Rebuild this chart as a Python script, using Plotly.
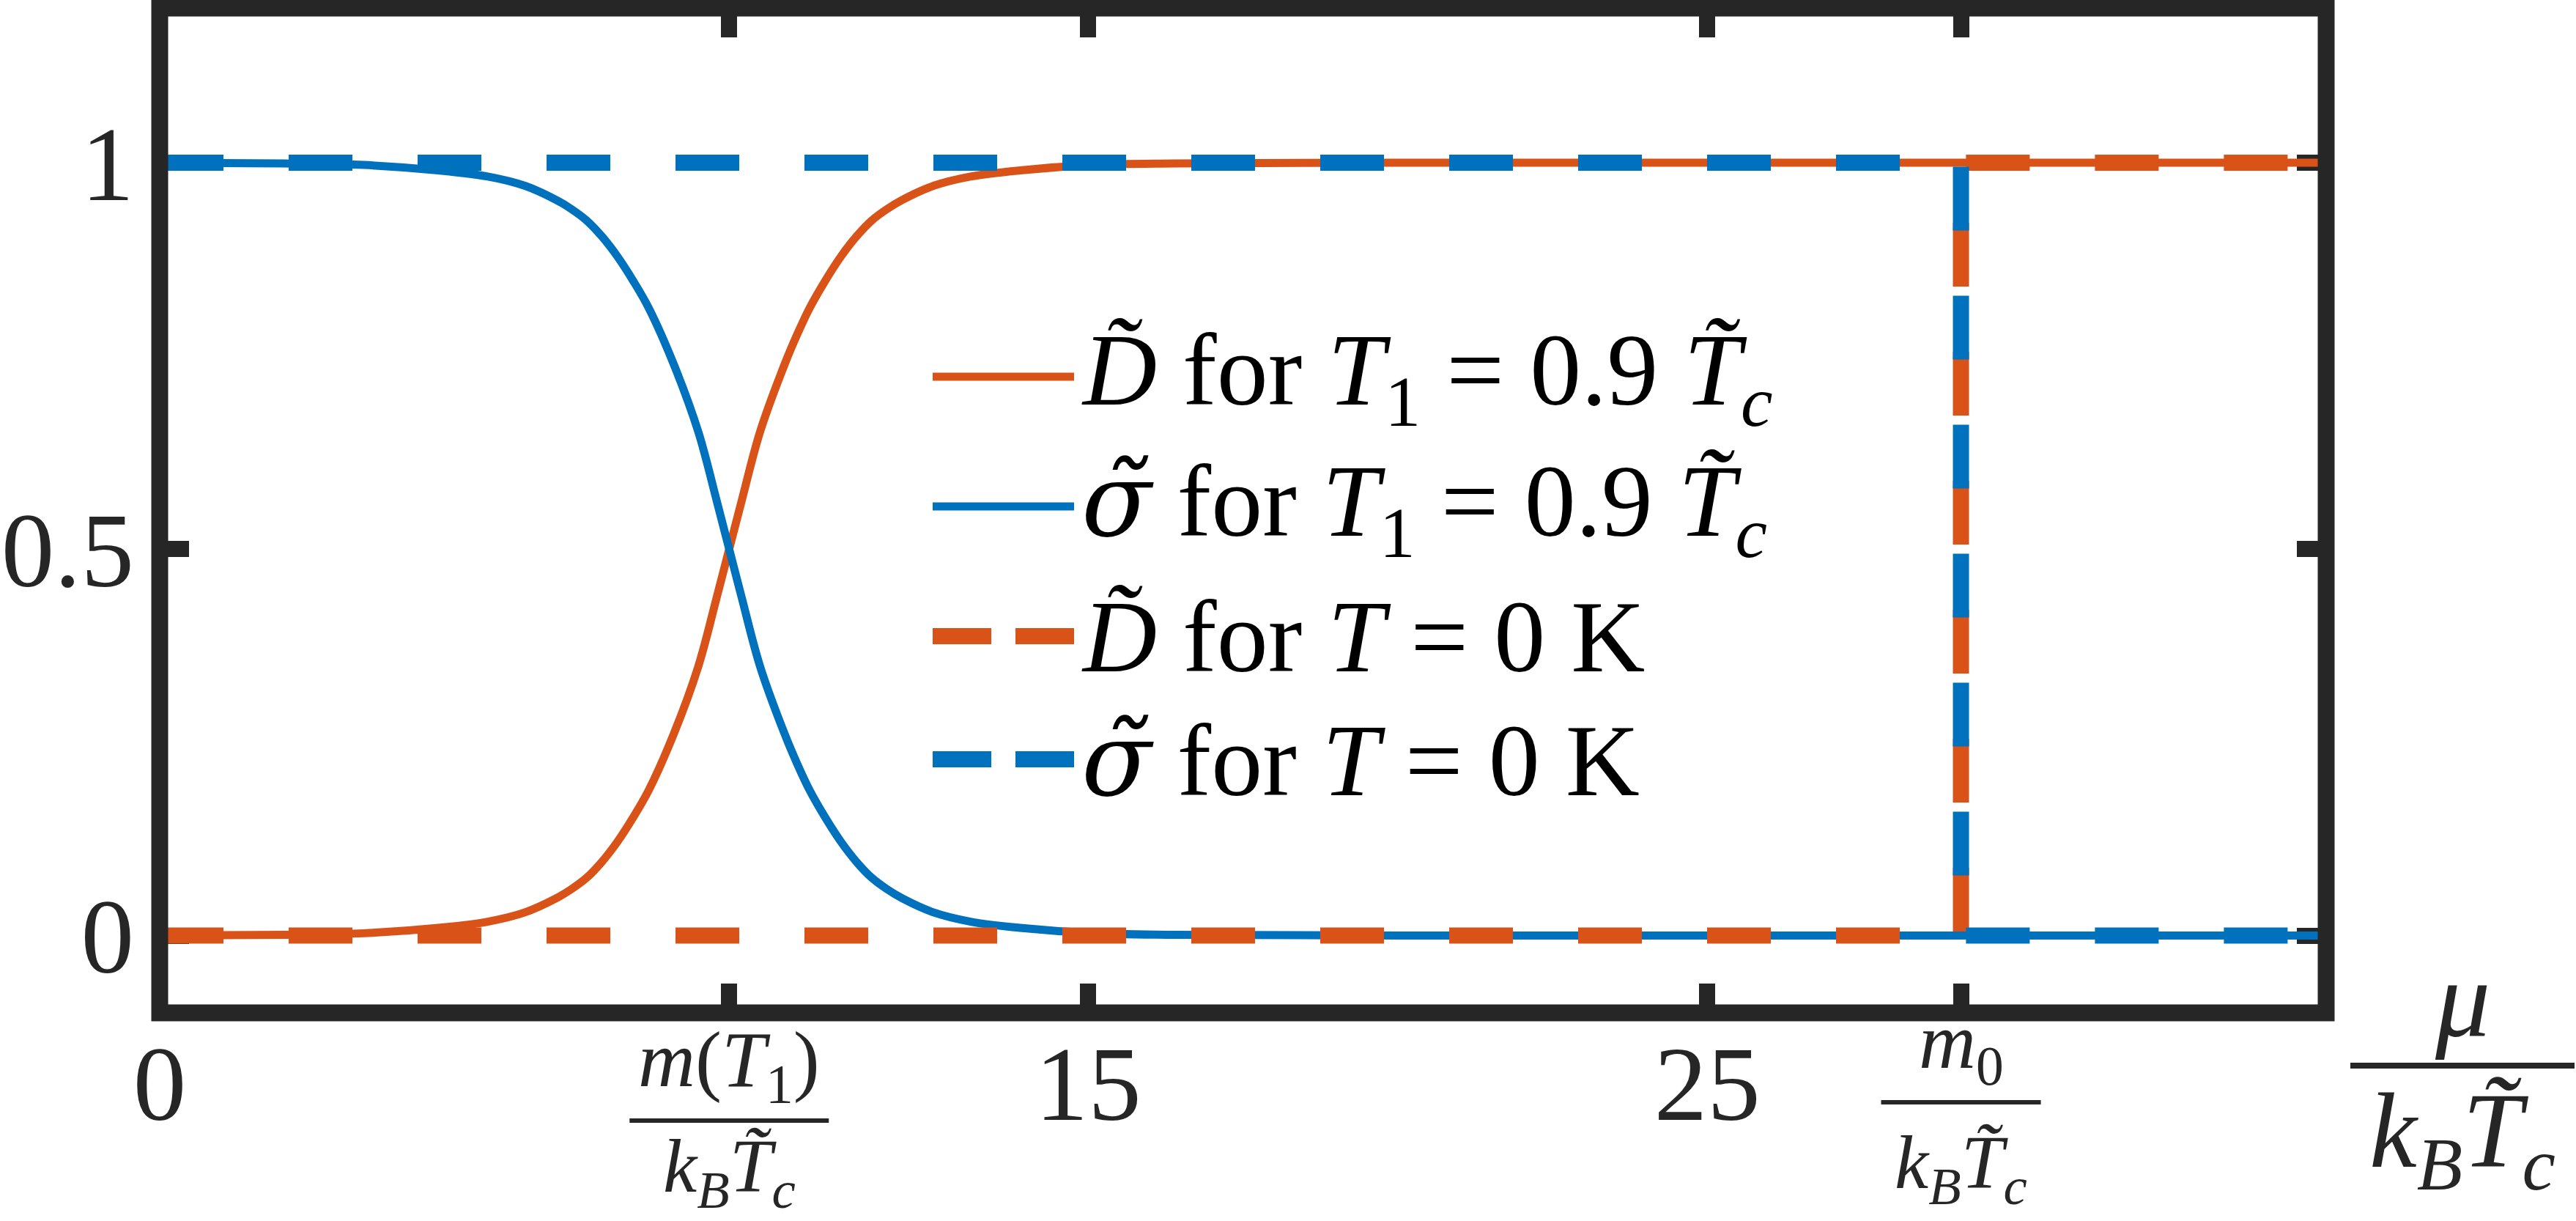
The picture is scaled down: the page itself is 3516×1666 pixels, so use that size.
import plotly.graph_objects as go

# mu / (kB Tc~) sample points of the finite temperature curves
mu_T1 = [0, 2.0, 3.3, 4.5, 5.3, 5.9, 6.4, 6.65, 6.9, 7.15, 7.4, 7.65, 7.9, 8.3, 8.7, 9.0, 9.2,
         9.4, 9.7, 10.1, 10.3, 10.5, 10.75, 11.0, 11.25, 11.5, 11.75, 12.0, 12.5, 13.1, 13.9, 15.1, 16.4, 20.0, 35.0]
sigma_T1 = [1.0, 0.999, 0.997, 0.990, 0.982, 0.970, 0.952, 0.940, 0.925, 0.904, 0.878, 0.847, 0.812, 0.740,
            0.652, 0.562, 0.500,
            0.438, 0.348, 0.260, 0.222, 0.188, 0.153, 0.122, 0.096, 0.075, 0.060, 0.048, 0.030, 0.018, 0.010,
            0.003, 0.001, 0.0, 0.0]
D_T1 = [0.0, 0.001, 0.003, 0.010, 0.018, 0.030, 0.048, 0.060, 0.075, 0.096, 0.122, 0.153, 0.188, 0.260,
        0.348, 0.438, 0.500,
        0.562, 0.652, 0.740, 0.778, 0.812, 0.847, 0.878, 0.904, 0.925, 0.940, 0.952, 0.970, 0.982, 0.990,
        0.997, 0.999, 1.0, 1.0]

# T = 0 K step functions
m_T1 = 9.2
m_0 = 29.1
mu_T0 = [0, m_0, m_0, 35]
D_T0 = [0, 0, 1, 1]
sigma_T0 = [1, 1, 0, 0]

x_ticks = [0, m_T1, 15, 25, m_0]
x_ticktext = ["0", "", "15", "25", ""]
y_ticks = [0, 0.5, 1]
y_ticktext = ["0", "0.5", "1"]

ORANGE = "#D95319"
BLUE = "#0072BD"
AX = "#262626"
FONT = "Liberation Serif"

W, H = 3516, 1666
L, R, T, B = 218, 341, 11, 284
PW, PH = W - L - R, H - T - B


def px_x(p):
    return (p - L) / PW


def px_y(p):
    return (T + PH - p) / PH


DT = "<i>D\u0303</i>"
SG = "<span style=\"font-family:'DejaVu Serif'\"><i>\u03c3\u0303</i></span>"
TC = "<i>T\u0303</i><sub><i>c</i></sub>"
EQ = " = "
names = [DT + " for <i>T</i><sub>1</sub>" + EQ + "0.9 " + TC,
         SG + " for <i>T</i><sub>1</sub>" + EQ + "0.9 " + TC,
         DT + " for <i>T</i>" + EQ + "0 K",
         SG + " for <i>T</i>" + EQ + "0 K"]

fig = go.Figure()
fig.add_trace(go.Scatter(x=mu_T1, y=D_T1, mode="lines", name=names[0],
                         line=dict(color=ORANGE, width=11, shape="spline", smoothing=1.0)))
fig.add_trace(go.Scatter(x=mu_T1, y=sigma_T1, mode="lines", name=names[1],
                         line=dict(color=BLUE, width=11, shape="spline", smoothing=1.0)))
fig.add_trace(go.Scatter(x=mu_T0, y=D_T0, mode="lines", name=names[2],
                         line=dict(color=ORANGE, width=22, dash="87px,89px")))
fig.add_trace(go.Scatter(x=mu_T0, y=sigma_T0, mode="lines", name=names[3],
                         line=dict(color=BLUE, width=22, dash="87px,89px")))

shapes = [dict(type="rect", xref="paper", yref="paper", x0=0, x1=1, y0=0, y1=1,
               line=dict(color=AX, width=23), layer="above")]
annotations = []

# hand-drawn legend (MATLAB style, no box)
leg_rows = [514, 691, 868, 1036]
leg_style = [(ORANGE, 11, "solid"), (BLUE, 11, "solid"),
             (ORANGE, 22, "80px,33px"), (BLUE, 22, "80px,33px")]
for nm, yy, (c, w, d) in zip(names, leg_rows, leg_style):
    shapes.append(dict(type="line", xref="paper", yref="paper", x0=px_x(1273), x1=px_x(1466),
                       y0=px_y(yy), y1=px_y(yy), line=dict(color=c, width=w, dash=d)))
    annotations.append(dict(xref="paper", yref="paper", x=px_x(1474), y=px_y(yy), xanchor="left",
                            yanchor="middle", text=nm, showarrow=False,
                            font=dict(family=FONT, size=140, color="black")))


def frac(xc, half_w, bar_y, num, den, size, den_size, bar_w=6, den_gap=4):
    shapes.append(dict(type="line", xref="paper", yref="paper", x0=px_x(xc - half_w), x1=px_x(xc + half_w),
                       y0=px_y(bar_y), y1=px_y(bar_y), line=dict(color=AX, width=bar_w)))
    annotations.append(dict(xref="paper", yref="paper", x=px_x(xc), y=px_y(bar_y - 6), xanchor="center",
                            yanchor="bottom", text=num, showarrow=False,
                            font=dict(family=FONT, size=size, color=AX)))
    annotations.append(dict(xref="paper", yref="paper", x=px_x(xc), y=px_y(bar_y + den_gap), xanchor="center",
                            yanchor="top", text=den, showarrow=False,
                            font=dict(family=FONT, size=den_size, color=AX)))


DEN = "<i>k</i><sub><i>B</i></sub>" + TC
frac(L + m_T1 * PW / 35, 136, 1529, "<i>m</i>(<i>T</i><sub>1</sub>)", DEN, 108, 104, den_gap=2)
frac(L + m_0 * PW / 35, 109, 1504, "<i>m</i><sub>0</sub>", DEN, 108, 104, den_gap=22)
frac(3361, 153, 1454, "<i>\u03bc</i>", DEN, 150, 146, bar_w=8, den_gap=6)

fig.update_layout(
    width=W, height=H, margin=dict(l=L, r=R, t=T, b=B, autoexpand=False),
    paper_bgcolor="white", plot_bgcolor="white", showlegend=False,
    shapes=shapes, annotations=annotations,
    xaxis=dict(range=[0, 35], tickmode="array", tickvals=x_ticks, ticktext=x_ticktext,
               ticks="inside", ticklen=40, tickwidth=22, tickcolor=AX, mirror="ticks",
               showgrid=False, zeroline=False, showline=False, layer="below traces",
               tickfont=dict(family=FONT, size=145, color=AX)),
    yaxis=dict(range=[-0.1, 1.2], tickmode="array", tickvals=y_ticks, ticktext=y_ticktext,
               ticks="inside", ticklen=40, tickwidth=22, tickcolor=AX, mirror="ticks",
               showgrid=False, zeroline=False, showline=False, layer="below traces",
               ticklabelstandoff=34,
               tickfont=dict(family=FONT, size=145, color=AX)),
)

fig.write_html("out.html", config={"displayModeBar": False},
               post_script="document.body.style.margin='0';")
